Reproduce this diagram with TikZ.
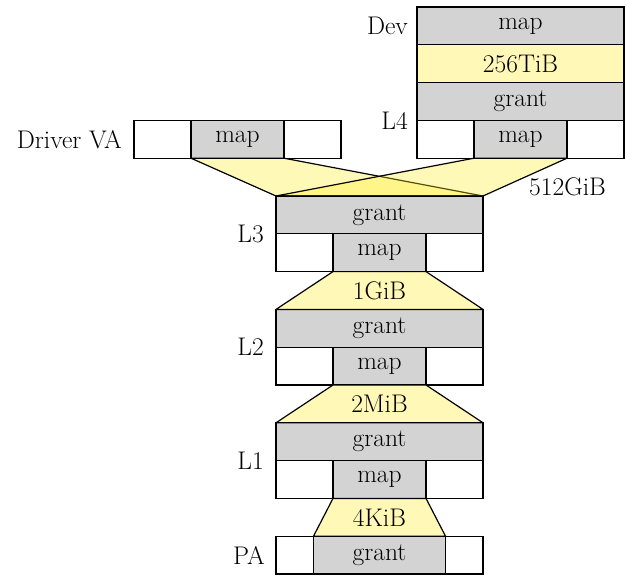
\documentclass[tikz,border=0pt]{standalone}
\usepackage{fontspec}
\begin{document}
\begin{tikzpicture}[x=1pt,y=-1pt,
  every node/.style={font=\fontsize{25.5}{29}\selectfont},
  cell/.style={draw, line width=1.2pt, minimum height=37.8pt, inner sep=0pt, outer sep=0pt},
  wide/.style={cell, minimum width=207pt},
  slot/.style={cell, minimum width=93pt, fill=boxgray},
  greycell/.style={wide, fill=boxgray},
  sizecell/.style={wide, fill=sizeyellow},
  tag/.style={anchor=east, inner sep=0pt},
  funnel/.style={draw, line width=1.2pt, line join=round, fill=funnelyellow, fill opacity=0.33},
  solidfunnel/.style={draw, line width=1.2pt, line join=round, fill=sizeyellow}
]
\definecolor{boxgray}{RGB}{211,211,211}
\definecolor{sizeyellow}{RGB}{255,248,182}
\definecolor{funnelyellow}{RGB}{255,236,40}
\useasboundingbox (0,0) rectangle (626,577);

% device table stack
\node[greycell] (devmap) at (520.5,25.9) {map};
\node[sizecell] (tib) at (520.5,63.7) {256TiB};
\node[greycell] (l4grant) at (520.5,101.5) {grant};
\node[wide] (l4row) at (520.5,139.3) {};
\node[slot] (l4map) at (520.5,139.3) {map};
\node[tag] (devlbl) at ([xshift=-9pt]devmap.west) {Dev};
\node[tag] (l4lbl) at ([xshift=-9pt]l4grant.south west) {L4};

% driver virtual address row
\node[wide] (drvrow) at (237.5,139.3) {};
\node[slot] (drvmap) at (237.5,139.3) {map};
\node[tag] (drvlbl) at ([xshift=-12pt]drvrow.west) {Driver VA};

% L3
\node[greycell] (l3grant) at (379.5,214.9) {grant};
\node[wide] (l3row) at (379.5,252.7) {};
\node[slot] (l3map) at (379.5,252.7) {map};
\node[tag] (l3lbl) at ([xshift=-12pt]l3grant.south west) {L3};

% L2
\node[greycell] (l2grant) at (379.5,328.3) {grant};
\node[wide] (l2row) at (379.5,366.1) {};
\node[slot] (l2map) at (379.5,366.1) {map};
\node[tag] (l2lbl) at ([xshift=-12pt]l2grant.south west) {L2};

% L1
\node[greycell] (l1grant) at (379.5,441.7) {grant};
\node[wide] (l1row) at (379.5,479.5) {};
\node[slot] (l1map) at (379.5,479.5) {map};
\node[tag] (l1lbl) at ([xshift=-12pt]l1grant.south west) {L1};

% physical address row
\node[wide] (parow) at (379.5,555.1) {};
\node[cell, minimum width=132pt, fill=boxgray] (pagrant) at (379.5,555.1) {grant};
\node[tag] (palbl) at ([xshift=-11pt]parow.west) {PA};

% 512GiB funnels from both map slots into L3
\path[funnel] (drvmap.south west) -- (l3grant.north west) -- (l3grant.north east) -- (drvmap.south east) -- cycle;
\path[funnel] (l4map.south west) -- (l3grant.north west) -- (l3grant.north east) -- (l4map.south east) -- cycle;
\node[anchor=west, inner sep=0pt] (gib512) at (529,186.5) {512GiB};

% lower funnels
\path[solidfunnel] (l3map.south west) -- (l2grant.north west) -- (l2grant.north east) -- (l3map.south east) -- cycle;
\node (gib1) at (379.5,290.5) {1GiB};
\path[solidfunnel] (l2map.south west) -- (l1grant.north west) -- (l1grant.north east) -- (l2map.south east) -- cycle;
\node (mib2) at (379.5,403.9) {2MiB};
\path[solidfunnel] (l1map.south west) -- (pagrant.north west) -- (pagrant.north east) -- (l1map.south east) -- cycle;
\node (kib4) at (379.5,517.3) {4KiB};
\end{tikzpicture}
\end{document}
